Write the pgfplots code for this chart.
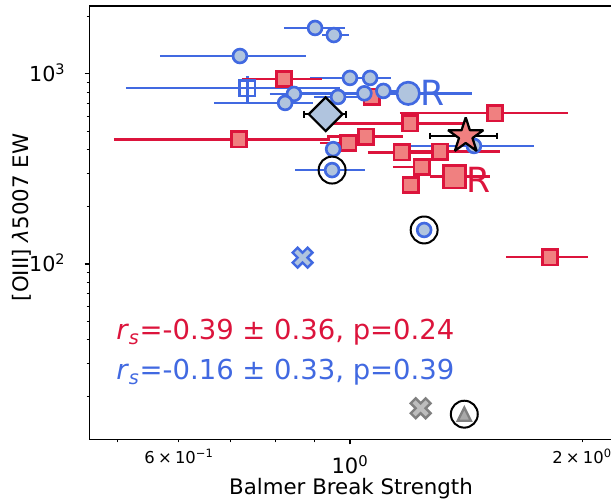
\documentclass[border=0pt]{standalone}
\usepackage{fontspec}
\setmainfont{DejaVu Sans}
\usepackage{pgfplots}
\pgfplotsset{compat=1.18}
\definecolor{royalblue}{HTML}{4169E1}
\definecolor{lsb}{HTML}{B0C4DE}
\definecolor{crimson}{HTML}{DC143C}
\definecolor{lcoral}{HTML}{F08080}
\definecolor{gedge}{HTML}{808080}
\definecolor{gfillx}{HTML}{BDBDBD}
\definecolor{gfillt}{HTML}{A9A9A9}
\newcommand\tm{\hspace{0.2em}×\hspace{0.2em}}

\pgfdeclareplotmark{starf}{%
 \pgfpathmoveto{\pgfqpoint{0pt}{\pgfplotmarksize}}%
 \pgfpathlineto{\pgfqpoint{-0.2245\pgfplotmarksize}{0.3090\pgfplotmarksize}}%
 \pgfpathlineto{\pgfqpoint{-0.9511\pgfplotmarksize}{0.3090\pgfplotmarksize}}%
 \pgfpathlineto{\pgfqpoint{-0.3633\pgfplotmarksize}{-0.1180\pgfplotmarksize}}%
 \pgfpathlineto{\pgfqpoint{-0.5878\pgfplotmarksize}{-0.8090\pgfplotmarksize}}%
 \pgfpathlineto{\pgfqpoint{0pt}{-0.382\pgfplotmarksize}}%
 \pgfpathlineto{\pgfqpoint{0.5878\pgfplotmarksize}{-0.8090\pgfplotmarksize}}%
 \pgfpathlineto{\pgfqpoint{0.3633\pgfplotmarksize}{-0.1180\pgfplotmarksize}}%
 \pgfpathlineto{\pgfqpoint{0.9511\pgfplotmarksize}{0.3090\pgfplotmarksize}}%
 \pgfpathlineto{\pgfqpoint{0.2245\pgfplotmarksize}{0.3090\pgfplotmarksize}}%
 \pgfpathclose
 \pgfusepathqfillstroke}
\pgfdeclareplotmark{diamf}{%
 \pgfpathmoveto{\pgfqpoint{0pt}{\pgfplotmarksize}}%
 \pgfpathlineto{\pgfqpoint{\pgfplotmarksize}{0pt}}%
 \pgfpathlineto{\pgfqpoint{0pt}{-\pgfplotmarksize}}%
 \pgfpathlineto{\pgfqpoint{-\pgfplotmarksize}{0pt}}%
 \pgfpathclose
 \pgfusepathqfillstroke}
\pgfdeclareplotmark{trif}{%
 \pgfpathmoveto{\pgfqpoint{0pt}{\pgfplotmarksize}}%
 \pgfpathlineto{\pgfqpoint{-\pgfplotmarksize}{-\pgfplotmarksize}}%
 \pgfpathlineto{\pgfqpoint{\pgfplotmarksize}{-\pgfplotmarksize}}%
 \pgfpathclose
 \pgfusepathqfillstroke}
\pgfdeclareplotmark{xf}{%
 \pgfpathmoveto{\pgfqpoint{0.4714\pgfplotmarksize}{-0.9428\pgfplotmarksize}}%
 \pgfpathlineto{\pgfqpoint{0.9428\pgfplotmarksize}{-0.4714\pgfplotmarksize}}%
 \pgfpathlineto{\pgfqpoint{0.4714\pgfplotmarksize}{0pt}}%
 \pgfpathlineto{\pgfqpoint{0.9428\pgfplotmarksize}{0.4714\pgfplotmarksize}}%
 \pgfpathlineto{\pgfqpoint{0.4714\pgfplotmarksize}{0.9428\pgfplotmarksize}}%
 \pgfpathlineto{\pgfqpoint{0pt}{0.4714\pgfplotmarksize}}%
 \pgfpathlineto{\pgfqpoint{-0.4714\pgfplotmarksize}{0.9428\pgfplotmarksize}}%
 \pgfpathlineto{\pgfqpoint{-0.9428\pgfplotmarksize}{0.4714\pgfplotmarksize}}%
 \pgfpathlineto{\pgfqpoint{-0.4714\pgfplotmarksize}{0pt}}%
 \pgfpathlineto{\pgfqpoint{-0.9428\pgfplotmarksize}{-0.4714\pgfplotmarksize}}%
 \pgfpathlineto{\pgfqpoint{-0.4714\pgfplotmarksize}{-0.9428\pgfplotmarksize}}%
 \pgfpathlineto{\pgfqpoint{0pt}{-0.4714\pgfplotmarksize}}%
 \pgfpathclose
 \pgfusepathqfillstroke}

\pgfplotstableread[row sep=\\]{
x y\\
0.821 1746\\ 0.985 1746\\ nan nan\\
0.920 1603\\ 0.997 1603\\ nan nan\\
0.567 1243\\ 0.877 1243\\ nan nan\\
0.512 841\\ 0.970 841\\ nan nan\\
0.736 706\\ 0.736 980\\ nan nan\\
0.787 785\\ 0.962 785\\ nan nan\\
0.667 704\\ 0.895 704\\ nan nan\\
0.898 757\\ 1.094 757\\ nan nan\\
0.887 953\\ 0.985 953\\ nan nan\\
1.000 953\\ 1.130 953\\ nan nan\\
0.942 791\\ 1.161 791\\ nan nan\\
1.030 814\\ 1.196 814\\ nan nan\\
0.861 791\\ 1.438 791\\ nan nan\\
0.928 402\\ 0.970 402\\ nan nan\\
0.849 312\\ 1.046 312\\ nan nan\\
1.196 418\\ 1.733 418\\
}\blueerr
\pgfplotstableread[row sep=\\]{
x y\\
0.724 941\\ 0.920 941\\ nan nan\\
0.494 453\\ 0.942 453\\ nan nan\\
0.914 432\\ 1.030 432\\ nan nan\\
0.934 468\\ 1.171 468\\ nan nan\\
0.950 550\\ 1.420 550\\ nan nan\\
1.161 621\\ 1.918 621\\ nan nan\\
1.055 387\\ 1.308 387\\ nan nan\\
1.196 390\\ 1.565 390\\ nan nan\\
1.137 323\\ 1.270 323\\ nan nan\\
1.168 260\\ 1.232 260\\ nan nan\\
1.270 288\\ 1.519 288\\ nan nan\\
1.594 108.5\\ 2.036 108.5\\
}\rederr
\pgfplotstableread[row sep=\\]{
x y\\
0.901 1746\\ 0.953 1603\\ 0.720 1243\\ 0.846 785\\ 0.824 704\\
0.965 757\\ 1.000 953\\ 1.062 953\\ 1.044 791\\ 1.105 814\\
0.951 402\\ 0.948 312\\ 1.248 151\\ 1.448 418\\
}\bluecirc
\pgfplotstableread[row sep=\\]{
x y\\
0.821 941\\ 0.718 453\\ 1.067 760\\ 0.995 432\\ 1.049 468\\
1.196 550\\ 1.542 621\\ 1.167 387\\ 1.308 390\\ 1.239 323\\
1.199 260\\ 1.817 108.5\\
}\redsq

\begin{document}
\begin{tikzpicture}
\begin{axis}[
  name=ax,
  scale only axis,
  width=393.375pt, height=325.125pt,
  xmode=log, ymode=log,
  xmin=0.4594, xmax=2.200, ymin=11.92, ymax=2279,
  axis line style={line width=1.1pt, black},
  tick align=outside,
  xtick pos=left, ytick pos=left,
  major tick length=3.7pt, minor tick length=2.1pt,
  every tick/.style={black, line width=0.8pt},
  xtick={1}, xticklabels={10\textsuperscript{0}},
  extra x ticks={0.6,2},
  extra x tick labels={6\tm10\textsuperscript{−1},2\tm10\textsuperscript{0}},
  extra x tick style={major tick length=2.1pt, xticklabel style={font=\fontsize{12.3}{14}\selectfont, yshift=5.5pt}},
  minor xtick={0.5,0.7,0.8,0.9},
  ytick={100,1000}, yticklabels={10\textsuperscript{2},10\textsuperscript{3}},
  minor ytick={20,30,40,50,60,70,80,90,200,300,400,500,600,700,800,900,2000},
  xticklabel style={font=\fontsize{15.8}{18}\selectfont, anchor=base, yshift=-21.6pt},
  yticklabel style={font=\fontsize{15.5}{18}\selectfont, anchor=base east, xshift=-10.9pt, yshift=-5.8pt},
  xlabel={Balmer Break Strength},
  ylabel={[OIII] \textit{λ}5007 EW},
  every axis x label/.style={at={(rel axis cs:0.4986,-0.1264)}, anchor=base, font=\fontsize{16}{19}\selectfont},
  every axis y label/.style={at={(rel axis cs:-0.1287,0.512)}, rotate=90, anchor=center, font=\fontsize{16}{19}\selectfont},
]
% error bars
\addplot[royalblue, line width=1.8pt, unbounded coords=jump, forget plot] table {\blueerr};
\addplot[crimson, line width=1.8pt, unbounded coords=jump, forget plot] table {\rederr};
% red squares
\addplot[only marks, mark=square*, mark size=5.7pt, mark options={draw=crimson, fill=lcoral, line width=2pt, line join=miter}] table {\redsq};
\addplot[only marks, mark=square*, mark size=8.4pt, mark options={draw=crimson, fill=lcoral, line width=2pt, line join=miter}] coordinates {(1.366,288)};
% blue circles
\addplot[only marks, mark=*, mark size=5.2pt, mark options={draw=royalblue, fill=lsb, line width=2pt}] table {\bluecirc};
\addplot[only marks, mark=*, mark size=8.4pt, mark options={draw=royalblue, fill=lsb, line width=2pt}] coordinates {(1.190,791)};
\addplot[only marks, mark=square, mark size=5.7pt, mark options={draw=royalblue, line width=2pt, line join=miter}] coordinates {(0.736,841)};
\addplot[only marks, mark=xf, mark size=7.9pt, mark options={draw=royalblue, fill=lsb, line width=1.8pt, line join=miter}] coordinates {(0.868,108)};
% gray
\addplot[only marks, mark=xf, mark size=7.9pt, mark options={draw=gedge, fill=gfillx, line width=1.8pt, line join=miter}] coordinates {(1.235,17.4)};
\addplot[only marks, mark=trif, mark size=4.9pt, mark options={draw=gedge, fill=gfillt, line width=1.8pt, line join=miter}] coordinates {(1.407,16.2)};
% rings
\addplot[only marks, mark=o, mark size=10.1pt, mark options={draw=black, line width=1.5pt}] coordinates {(0.948,312) (1.248,151) (1.407,16.2)};
% star and diamond with bars
\addplot[black, line width=1.5pt, mark=|, mark size=2.5pt, mark options={line width=1.5pt}] coordinates {(1.270,472) (1.551,472)};
\addplot[only marks, mark=starf, mark size=13.9pt, mark options={draw=black, fill=lcoral, line width=1.7pt, line join=bevel}] coordinates {(1.413,472)};
\addplot[black, line width=1.5pt, mark=|, mark size=2.5pt, mark options={line width=1.5pt}] coordinates {(0.872,614) (0.988,614)};
\addplot[only marks, mark=diamf, mark size=12.6pt, mark options={draw=black, fill=lsb, line width=1.7pt, line join=miter}] coordinates {(0.930,614)};
% texts
\node[anchor=west, inner sep=0pt, text=royalblue, font=\fontsize{26}{30}\selectfont] at (axis cs:1.235,791) {R};
\node[anchor=west, inner sep=0pt, text=crimson, font=\fontsize{26}{30}\selectfont] at (axis cs:1.414,276.6) {R};
\node[anchor=base west, inner sep=0pt, text=crimson, font=\fontsize{20.6}{24}\selectfont] at (rel axis cs:0.0505,0.2295) {\textit{r}\textsubscript{\textit{s}}=-0.39 ± 0.36, p=0.24};
\node[anchor=base west, inner sep=0pt, text=royalblue, font=\fontsize{20.6}{24}\selectfont] at (rel axis cs:0.0505,0.1373) {\textit{r}\textsubscript{\textit{s}}=-0.16 ± 0.33, p=0.39};
\end{axis}
\pgfresetboundingbox
\path[use as bounding box] (-67.125pt,-46.875pt) rectangle (391.125pt,329.625pt);
\end{tikzpicture}
\end{document}
